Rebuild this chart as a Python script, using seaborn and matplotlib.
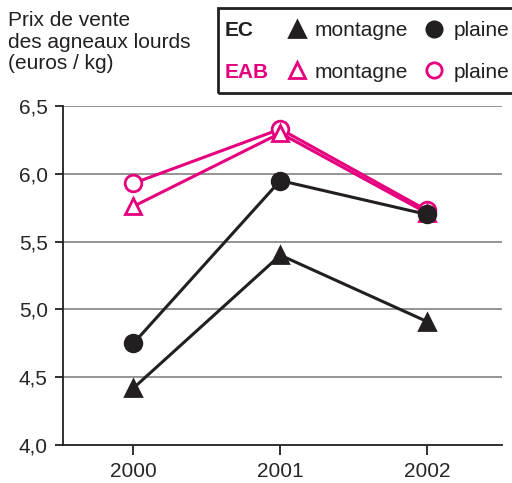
import matplotlib
matplotlib.use("Agg")
import matplotlib.pyplot as plt
import seaborn as sns
from matplotlib.lines import Line2D
from matplotlib.patches import Rectangle

annees = [2000, 2001, 2002]
ec_montagne = [4.42, 5.40, 4.91]
ec_plaine = [4.75, 5.95, 5.70]
eab_montagne = [5.76, 6.30, 5.71]
eab_plaine = [5.93, 6.33, 5.73]
yticks = [4.0, 4.5, 5.0, 5.5, 6.0, 6.5]

noir = "#231f20"
rose = "#e5007e"

sns.set_style("white")
plt.rcParams["font.family"] = ["Liberation Sans", "DejaVu Sans"]
plt.rcParams["font.size"] = 15

fig = plt.figure(figsize=(5.12, 4.83), dpi=100)
ax = fig.add_axes([63 / 512, 1 - 445 / 483, 439 / 512, 339 / 483])

series = [
    (eab_plaine, rose, "o", "white"),
    (eab_montagne, rose, "^", "white"),
    (ec_plaine, noir, "o", noir),
    (ec_montagne, noir, "^", noir),
]
for vals, col, mk, face in series:
    sns.lineplot(x=annees, y=vals, ax=ax, color=col, lw=2.2, marker=mk,
                 markersize=12, markerfacecolor=face, markeredgecolor=col,
                 markeredgewidth=2, zorder=3)

ax.set_xlim(1999.52, 2002.51)
ax.set_ylim(4.0, 6.5)
ax.set_xticks(annees)
ax.set_xticklabels([str(a) for a in annees])
ax.set_yticks(yticks)
ax.set_yticklabels([f"{v:.1f}".replace(".", ",") for v in yticks])
for v in yticks[1:]:
    ax.axhline(v, color="#8c8c8c", lw=1.3, zorder=1)
for s in ["top", "right"]:
    ax.spines[s].set_visible(False)
ax.spines["left"].set_color(noir)
ax.spines["bottom"].set_color(noir)
ax.spines["left"].set_linewidth(1.3)
ax.spines["bottom"].set_linewidth(1.3)
ax.tick_params(axis="x", bottom=True, direction="out", length=7.5, width=1.3,
               color=noir, pad=5)
ax.tick_params(axis="y", left=True, direction="out", length=6, width=1.3,
               color=noir, pad=5)
ax.set_xlabel("")
ax.set_ylabel("")

fig.text(8 / 512, 1 - 11 / 483, "Prix de vente\ndes agneaux lourds\n(euros / kg)",
         ha="left", va="top", linespacing=1.18, color=noir)

# legende faite a la main
fig.patches.append(Rectangle((218 / 512, 1 - 93 / 483), 300 / 512, 85 / 483,
                             transform=fig.transFigure, fill=False,
                             edgecolor=noir, lw=2))
for yy, lab, col, face in [(31, "EC", noir, noir), (72, "EAB", rose, "white")]:
    y = 1 - yy / 483
    fig.text(225 / 512, y, lab, color=col, fontweight="bold", va="center")
    fig.lines.append(Line2D([297 / 512], [y + 0.004], transform=fig.transFigure,
                            marker="^", markersize=12, color=col,
                            markerfacecolor=face, markeredgewidth=2, lw=0))
    fig.text(315 / 512, y, "montagne", color=noir, va="center")
    fig.lines.append(Line2D([434 / 512], [y + 0.004], transform=fig.transFigure,
                            marker="o", markersize=11, color=col,
                            markerfacecolor=face, markeredgewidth=2, lw=0))
    fig.text(454 / 512, y, "plaine", color=noir, va="center")

plt.savefig("out.png", dpi=100)
